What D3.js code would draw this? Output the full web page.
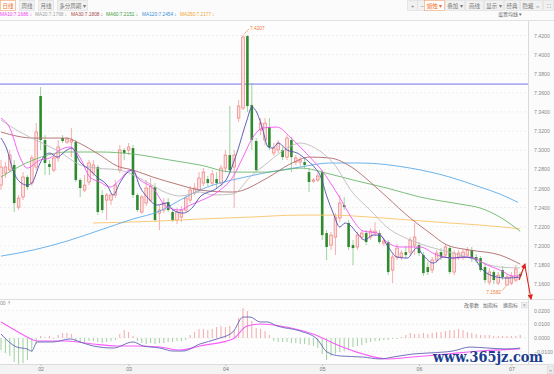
<!DOCTYPE html>
<html>
<head>
<meta charset="utf-8">
<script src="https://cdn.jsdelivr.net/npm/d3@7"></script>
<style>
  body { margin: 0; background: #fafafa; }
  svg { display: block; font-family: "Liberation Sans", "Noto Sans CJK SC", sans-serif; }
</style>
</head>
<body>
<svg id="chart" width="554" height="374"></svg>
<script>
// daily K line, index 0..118
const openP = [7.2635,7.2761,7.2792,7.2845,7.2405,7.2510,7.2719,7.2656,7.2824,7.3567,
  7.3106,7.2855,7.2792,7.2918,7.3127,7.3085,7.3085,7.3085,7.2688,7.2583,
  7.2667,7.2761,7.2824,7.2531,7.2478,7.2478,7.2531,7.2792,7.3002,7.3002,
  7.3022,7.2531,7.2353,7.2447,7.2478,7.2614,7.2342,7.2374,7.2457,7.2353,
  7.2269,7.2300,7.2374,7.2478,7.2552,7.2583,7.2656,7.2698,7.2656,7.2698,
  7.2656,7.2813,7.2949,7.2824,7.3336,7.3441,7.4194,7.3472,7.3096,7.3211,
  7.3106,7.3242,7.2970,7.3002,7.3002,7.2928,7.3106,7.2876,7.2876,7.2876,
  7.2771,7.2677,7.2688,7.2771,7.2133,7.2007,7.2091,7.2290,7.2426,7.2238,
  7.2007,7.1987,7.2091,7.2133,7.2091,7.2133,7.2133,7.2028,7.2039,7.1746,
  7.1882,7.1882,7.1934,7.1934,7.2007,7.2007,7.1903,7.1777,7.1746,7.1851,
  7.1934,7.1903,7.1976,7.1725,7.1882,7.1882,7.1903,7.1955,7.1882,7.1871,
  7.1777,7.1620,7.1725,7.1610,7.1746,7.1589,7.1610,7.1641,7.1704]
const highP = [7.2897,7.2876,7.3002,7.2897,7.2531,7.2771,7.2740,7.2949,7.3284,7.3661,
  7.3158,7.2897,7.2949,7.3106,7.3158,7.3138,7.3232,7.3106,7.2709,7.2740,
  7.2897,7.2897,7.2845,7.2583,7.2552,7.2552,7.2688,7.3054,7.3022,7.3075,
  7.3054,7.2552,7.2531,7.2688,7.2709,7.2656,7.2426,7.2499,7.2499,7.2374,
  7.2395,7.2415,7.2531,7.2625,7.2656,7.2771,7.2813,7.2730,7.2792,7.2771,
  7.2845,7.3002,7.3462,7.3002,7.3525,7.4207,7.4205,7.3703,7.3127,7.3336,
  7.3336,7.3336,7.3075,7.3106,7.3033,7.3158,7.3138,7.2949,7.2928,7.2918,
  7.2813,7.2709,7.2771,7.2792,7.2164,7.2144,7.2342,7.2531,7.2510,7.2269,
  7.2060,7.2144,7.2164,7.2164,7.2185,7.2248,7.2164,7.2081,7.2060,7.1913,
  7.2018,7.1955,7.1997,7.2091,7.2238,7.2039,7.1934,7.1830,7.1882,7.1955,
  7.1976,7.2018,7.1997,7.1955,7.1955,7.1966,7.1987,7.1987,7.1913,7.1892,
  7.1809,7.1767,7.1746,7.1725,7.1788,7.1704,7.1725,7.1798,7.1725]
const lowP = [7.2583,7.2709,7.2771,7.2353,7.2374,7.2478,7.2583,7.2625,7.2792,7.3002,
  7.2740,7.2740,7.2771,7.2876,7.3075,7.3064,7.2928,7.2667,7.2510,7.2562,
  7.2635,7.2730,7.2321,7.2342,7.2269,7.2426,7.2499,7.2761,7.2897,7.2949,
  7.2499,7.2353,7.2332,7.2415,7.2457,7.2248,7.2164,7.2342,7.2353,7.2248,
  7.2227,7.2248,7.2353,7.2447,7.2531,7.2562,7.2625,7.2625,7.2625,7.2604,
  7.2625,7.2771,7.2771,7.2395,7.3295,7.3420,7.3399,7.3002,7.2771,7.3158,
  7.3054,7.3002,7.2939,7.2970,7.2897,7.2897,7.2771,7.2845,7.2834,7.2813,
  7.2562,7.2656,7.2667,7.2060,7.1851,7.1955,7.1903,7.2248,7.2374,7.1955,
  7.1798,7.1955,7.2060,7.2007,7.2060,7.2102,7.2018,7.1997,7.1693,7.1610,
  7.1851,7.1851,7.1871,7.1903,7.1903,7.1892,7.1683,7.1693,7.1714,7.1819,
  7.1851,7.1871,7.1704,7.1693,7.1851,7.1851,7.1871,7.1830,7.1819,7.1725,
  7.1610,7.1589,7.1600,7.1589,7.1641,7.1582,7.1589,7.1620,7.1662]
const closeP = [7.2824,7.2824,7.2949,7.2447,7.2499,7.2719,7.2614,7.2918,7.3190,7.3106,
  7.2866,7.2824,7.2918,7.3033,7.3096,7.3117,7.3106,7.2688,7.2604,7.2635,
  7.2866,7.2845,7.2353,7.2374,7.2531,7.2531,7.2635,7.3002,7.2970,7.3033,
  7.2531,7.2374,7.2510,7.2604,7.2625,7.2269,7.2374,7.2447,7.2374,7.2269,
  7.2353,7.2374,7.2499,7.2583,7.2604,7.2709,7.2771,7.2656,7.2750,7.2656,
  7.2813,7.2949,7.2792,7.2949,7.3462,7.4184,7.3462,7.3106,7.2792,7.3284,
  7.3284,7.3033,7.3022,7.3075,7.2928,7.3127,7.2928,7.2918,7.2897,7.2845,
  7.2667,7.2688,7.2730,7.2112,7.1987,7.2112,7.2300,7.2447,7.2405,7.1987,
  7.1976,7.2112,7.2133,7.2039,7.2154,7.2154,7.2039,7.2049,7.1725,7.1882,
  7.1976,7.1924,7.1903,7.2060,7.2091,7.1924,7.1714,7.1725,7.1851,7.1924,
  7.1882,7.1987,7.1725,7.1924,7.1924,7.1934,7.1955,7.1871,7.1851,7.1746,
  7.1641,7.1725,7.1641,7.1693,7.1673,7.1673,7.1683,7.1756,7.1683]

// moving averages, [candle index, value]
const ma5 = [[0,7.3127],[1.4,7.3002],[2.7,7.2792],[4.3,7.2667],[5.9,7.2635],[7,7.2656],[8.9,7.2866],[10,7.2949],
  [11.1,7.2970],[12.7,7.2928],[15,7.3002],[16.1,7.3022],[18,7.2876],[20.2,7.2792],[21.8,7.2719],[24.1,7.2635],
  [25.5,7.2531],[27,7.2656],[28.6,7.2761],[30,7.2792],[31.6,7.2614],[33.2,7.2510],[35.5,7.2426],[37.7,7.2447],
  [39.1,7.2374],[41.4,7.2342],[43.6,7.2405],[45.2,7.2510],[49.1,7.2604],[51.4,7.2709],[53.6,7.2970],[55.9,7.3315],
  [57,7.3451],[58.2,7.3389],[59.5,7.3211],[60.7,7.3033],[61.8,7.3022],[63,7.3075],[65,7.3002],[67.3,7.2970],
  [69.5,7.2897],[71.4,7.2813],[72.5,7.2740],[74.1,7.2510],[75.5,7.2342],[77,7.2196],[78.2,7.2238],[79.3,7.2217],
  [80.9,7.2133],[82.7,7.2060],[84.5,7.2112],[86.1,7.2112],[88,7.1987],[90,7.1882],[92.3,7.1871],[94.5,7.1976],
  [95.9,7.1903],[98.2,7.1819],[100.5,7.1882],[102.7,7.1871],[105,7.1882],[107.3,7.1871],[109.5,7.1746],
  [111.8,7.1683],[115,7.1662],[118,7.1673]]
const ma10 = [[0,7.3336],[2,7.3232],[4.3,7.2928],[5.9,7.2813],[8.9,7.2897],[11.1,7.2918],[13.4,7.3002],[15.7,7.3033],
  [18,7.2918],[20.2,7.2719],[22.5,7.2667],[24.8,7.2614],[27,7.2688],[29.3,7.2792],[31.6,7.2688],[34.5,7.2604],
  [37.7,7.2405],[40.7,7.2374],[43,7.2426],[45.2,7.2468],[49.8,7.2583],[52.7,7.2719],[55,7.2928],[57.3,7.3138],
  [59.5,7.3232],[62.7,7.3242],[65.7,7.3138],[68,7.3033],[70.2,7.2928],[73.2,7.2771],[75.5,7.2614],[77.7,7.2447],
  [80,7.2269],[82.3,7.2154],[85.5,7.2133],[87.7,7.2039],[90.7,7.1987],[95.2,7.1987],[99.1,7.1903],[102.7,7.1871],
  [106.6,7.1882],[110.5,7.1798],[113.4,7.1746],[116.4,7.1683],[118,7.1686]]
const ma20 = [[0,7.3315],[4.3,7.3190],[8.9,7.3085],[13.4,7.2981],[18,7.2845],[21.8,7.2813],[27,7.2792],[32.3,7.2688],
  [37.7,7.2552],[40.7,7.2520],[45.2,7.2562],[48.2,7.2531],[52.7,7.2541],[56.6,7.2719],[60.5,7.2866],[65,7.3022],
  [68,7.3075],[71.4,7.3022],[75.5,7.2866],[80,7.2552],[83.9,7.2374],[87.7,7.2196],[93,7.2060],[97.5,7.1987],
  [102.7,7.1924],[106.6,7.1871],[113.4,7.1777],[118,7.1768]]
const ma30 = [[0,7.3190],[7.3,7.3127],[15,7.3127],[17.3,7.3085],[22.5,7.2949],[26.4,7.2834],[30,7.2792],[34.5,7.2719],
  [40.7,7.2635],[45.2,7.2583],[52.7,7.2562],[60.5,7.2709],[65.7,7.2855],[70.2,7.2928],[74.8,7.2918],[80,7.2813],
  [83.9,7.2667],[87.7,7.2510],[93,7.2290],[97.5,7.2133],[101.4,7.2007],[106.6,7.1955],[113.4,7.1903],[118,7.1808]]
const ma60 = [[0,7.2719],[7.3,7.2897],[15,7.2981],[22.5,7.2981],[30,7.2960],[38.4,7.2897],[45.2,7.2845],[52.7,7.2771],
  [60.5,7.2771],[68,7.2813],[74.8,7.2750],[80,7.2688],[87.7,7.2604],[95.2,7.2510],[104.3,7.2436],[108.9,7.2395],
  [113.4,7.2300],[118,7.2151]]
const ma120 = [[0,7.1892],[7.3,7.1955],[15,7.2049],[22.5,7.2164],[30,7.2280],[36.1,7.2363],[40.7,7.2478],[45.2,7.2583],
  [56.6,7.2730],[68,7.2824],[74.8,7.2866],[81.6,7.2866],[93,7.2813],[102,7.2719],[108.9,7.2614],[113.4,7.2541],
  [117.5,7.2454]]
const ma250 = [[20.9,7.2238],[29.3,7.2248],[36.1,7.2259],[45.2,7.2280],[56.6,7.2300],[68,7.2321],[74.8,7.2321],
  [83.9,7.2300],[93,7.2269],[102,7.2238],[108.9,7.2217],[118,7.2177]]

const maNames = ["MA10", "MA20", "MA30", "MA60", "MA120", "MA250"]
const maLast = ["7.1686", "7.1768", "7.1808", "7.2151", "7.2454", "7.2177"]

const levelLine = 7.3692
const maxLabel = "7.4207", minLabel = "7.1582"

// MACD panel
const macdHist = [-0.0088,-0.0110,-0.0131,-0.0175,-0.0190,-0.0183,-0.0161,-0.0102,-0.0044,0.0015,
  0.0007,0.0015,-0.0007,0.0022,0.0037,0.0037,0.0029,-0.0022,-0.0037,-0.0029,
  -0.0022,-0.0022,-0.0029,-0.0037,-0.0029,-0.0022,-0.0015,0.0029,0.0058,0.0044,
  0.0015,-0.0022,-0.0037,-0.0044,-0.0037,-0.0044,-0.0037,-0.0037,-0.0029,-0.0029,
  -0.0022,-0.0022,-0.0015,0.0022,0.0044,0.0066,0.0066,0.0058,0.0066,0.0080,
  0.0088,0.0080,0.0088,0.0058,0.0146,0.0219,0.0197,0.0124,0.0073,0.0066,
  0.0051,0.0022,-0.0022,-0.0029,-0.0029,-0.0029,-0.0037,-0.0037,-0.0044,-0.0044,
  -0.0051,-0.0058,-0.0073,-0.0117,-0.0161,-0.0131,-0.0117,-0.0102,-0.0095,-0.0088,
  -0.0066,-0.0058,-0.0051,-0.0037,-0.0029,-0.0022,-0.0022,-0.0015,-0.0015,-0.0007,
  -0.0007,0.0007,0.0022,0.0037,0.0029,0.0029,0.0037,0.0029,0.0037,0.0044,
  0.0044,0.0051,0.0058,0.0058,0.0066,0.0058,0.0044,0.0037,0.0029,0.0022,
  0.0022,0.0022,0.0015,0.0015,0.0015,0.0015,0.0015,0.0015,0.0022]
const difLine = [[0,0.0029],[3.6,-0.0066],[5.9,-0.0080],[7,-0.0095],[8.2,-0.0029],[11.8,-0.0029],[15.7,-0.0007],
  [18,-0.0029],[20.9,-0.0058],[25.5,-0.0073],[30,-0.0029],[32.3,-0.0058],[36.1,-0.0073],[39.1,-0.0095],[41.4,-0.0095],
  [45.2,-0.0044],[49.1,-0.0007],[52.7,0.0044],[55,0.0153],[56.6,0.0153],[58.9,0.0117],[60.5,0.0117],[62.7,0.0088],
  [68,0.0051],[71.8,-0.0007],[74.1,-0.0102],[77,-0.0131],[82.3,-0.0139],[86.1,-0.0153],[89.1,-0.0139],
  [93.6,-0.0117],[97.5,-0.0109],[102.7,-0.0095],[106.6,-0.0066],[110.5,-0.0073],[115,-0.0080],[118,-0.0073]]
const deaLine = [[0,0.0117],[2.7,0.0066],[5.9,0.0007],[8.2,-0.0022],[15,-0.0022],[20.9,-0.0044],[26.4,-0.0058],
  [30,-0.0058],[36.1,-0.0066],[40.7,-0.0088],[45.2,-0.0058],[52.7,-0.0007],[55.9,0.0088],[58.9,0.0102],[63.4,0.0088],
  [70.9,0.0029],[77,-0.0058],[82.3,-0.0117],[87.7,-0.0153],[93.6,-0.0139],[101.4,-0.0117],[108.9,-0.0095],[118,-0.0080]]

const priceTicks = [7.16, 7.18, 7.20, 7.22, 7.24, 7.26, 7.28, 7.30, 7.32, 7.34, 7.36, 7.38, 7.40, 7.42]
const macdTicks = [0.02, 0.01, 0, -0.01]
const monthIdx = [9, 29, 51, 73, 95, 116]
const monthLabels = ["02", "03", "04", "05", "06", "07"]

const svg = d3.select("#chart")
const plotR = 528

const x = d3.scaleLinear().domain([0, 118]).range([1, 520.2])
const y = d3.scaleLinear().domain([7.16, 7.42]).range([284, 35.5])
const yM = d3.scaleLinear().domain([-0.02, 0.02]).range([365.4, 310.6])

const defs = svg.append("defs")
defs.append("clipPath").attr("id", "clipMain").append("rect").attr("x", 0).attr("y", 20).attr("width", plotR).attr("height", 277)
defs.append("clipPath").attr("id", "clipMacd").append("rect").attr("x", 0).attr("y", 300).attr("width", plotR).attr("height", 64)
defs.append("marker").attr("id", "arr").attr("viewBox", "0 0 10 10").attr("refX", 8).attr("refY", 5)
  .attr("markerWidth", 5).attr("markerHeight", 5).attr("orient", "auto")
  .append("path").attr("d", "M0,0 L10,5 L0,10 z").attr("fill", "#e0231c")

// backgrounds
svg.append("rect").attr("width", 554).attr("height", 374).attr("fill", "#fbfbfb")
svg.append("rect").attr("x", 0).attr("y", 20).attr("width", plotR).attr("height", 344).attr("fill", "#fdfdfd")

// toolbar
const tabs = [{t: "日线", x: 0, w: 15, on: true}, {t: "周线", x: 19, w: 15}, {t: "月线", x: 38, w: 15}, {t: "多分周期 ▾", x: 57, w: 30}]
const btns = [{t: "+", x: 407, w: 10}, {t: "−", x: 417, w: 9}, {t: "蜡烛 ▾", x: 424, w: 20, on: true}, {t: "叠加 ▾", x: 445, w: 19},
  {t: "画线", x: 465, w: 18}, {t: "显示 ▾", x: 484, w: 19}, {t: "经典", x: 504, w: 15}, {t: "隐藏 ⇔", x: 520, w: 22}, {t: "⛶", x: 543, w: 10}]
const tb = svg.append("g")
tb.selectAll("rect").data(tabs.concat(btns)).join("rect")
  .attr("x", d => d.x + 0.5).attr("y", 0.5).attr("width", d => d.w).attr("height", 10)
  .attr("fill", d => d.on ? "#fff" : "#f1f1f1").attr("stroke", d => d.on ? "#f3a16d" : "#dcdcdc").attr("stroke-width", 0.6)
tb.selectAll("text").data(tabs.concat(btns)).join("text")
  .attr("x", d => d.x + 0.5 + d.w / 2).attr("y", 7.5).attr("text-anchor", "middle")
  .attr("font-size", 5.5).attr("fill", d => d.on ? "#f06a1c" : "#777").text(d => d.t)

// MA legend
const maColors = ["#f23cf2", "#a0a0a0", "#a8484a", "#3e9e3e", "#3b8fd9", "#f2a532"]
const legX = [0, 35, 71, 106, 142, 180]
const leg = svg.append("g").attr("font-size", 4.8)
maNames.forEach((n, k) => {
  leg.append("text").attr("x", legX[k]).attr("y", 16).attr("fill", maColors[k]).text(n + ":" + maLast[k])
  leg.append("text").attr("x", legX[k] + (k > 3 ? 32 : 29.5)).attr("y", 16.3).attr("fill", maColors[k]).attr("font-size", 5.5).text("↓")
})
svg.append("text").attr("x", 498).attr("y", 16).attr("font-size", 5).attr("fill", "#666").text("设置均线 ▾")

// grid
const grid = svg.append("g").attr("stroke", "#e6e6e6").attr("stroke-width", 0.6).attr("stroke-dasharray", "2,2")
grid.selectAll("line.p").data(priceTicks).join("line").attr("class", "p")
  .attr("x1", 0).attr("x2", plotR).attr("y1", d => y(d)).attr("y2", d => y(d))
grid.selectAll("line.m").data(macdTicks).join("line").attr("class", "m")
  .attr("x1", 0).attr("x2", plotR).attr("y1", d => yM(d)).attr("y2", d => yM(d))

// right axes
svg.append("line").attr("x1", plotR + 0.5).attr("x2", plotR + 0.5).attr("y1", 20).attr("y2", 374).attr("stroke", "#dadada")
const ax1 = svg.append("g").attr("transform", `translate(534,0)`)
  .call(d3.axisRight(y).tickValues(priceTicks).tickFormat(d3.format(".4f")).tickSize(0).tickPadding(0))
const ax2 = svg.append("g").attr("transform", `translate(534,0)`)
  .call(d3.axisRight(yM).tickValues(macdTicks).tickFormat(d3.format(".4f")).tickSize(0).tickPadding(0))
for (const a of [ax1, ax2]) {
  a.select(".domain").remove()
  a.selectAll("text").attr("font-size", 5.2).attr("fill", "#8a8a8a").attr("font-family", "Liberation Sans")
}

// panel separators
svg.append("line").attr("x1", 0).attr("x2", 554).attr("y1", 20.5).attr("y2", 20.5).attr("stroke", "#e2e2e2")
svg.append("line").attr("x1", 0).attr("x2", 554).attr("y1", 299.5).attr("y2", 299.5).attr("stroke", "#dedede")

const main = svg.append("g").attr("clip-path", "url(#clipMain)")

// level line
main.append("line").attr("x1", 0).attr("x2", plotR).attr("y1", y(levelLine)).attr("y2", y(levelLine))
  .attr("stroke", "#aeaef5").attr("stroke-width", 1.8)

// candles
const idx = d3.range(openP.length)
const up = i => closeP[i] >= openP[i]
main.selectAll("line.wick").data(idx).join("line").attr("class", "wick")
  .attr("x1", i => x(i)).attr("x2", i => x(i)).attr("y1", i => y(highP[i])).attr("y2", i => y(lowP[i]))
  .attr("stroke", i => up(i) ? "#f19a9a" : "#86c786").attr("stroke-width", 0.8)
main.selectAll("rect.body").data(idx).join("rect").attr("class", "body")
  .attr("x", i => x(i) - 1.3).attr("width", 2.6)
  .attr("y", i => y(Math.max(openP[i], closeP[i])))
  .attr("height", i => Math.max(0.8, Math.abs(y(openP[i]) - y(closeP[i]))))
  .attr("fill", i => up(i) ? "#fce4e4" : "#2f8a2f")
  .attr("stroke", i => up(i) ? "#ee7b7b" : "none").attr("stroke-width", 0.7)

// MA lines
const line = d3.line().x(d => x(d[0])).y(d => y(d[1])).curve(d3.curveMonotoneX)
const maSets = [[ma250, "#f9c46a"], [ma120, "#5eaae8"], [ma60, "#6cb86c"], [ma30, "#b06a6a"], [ma20, "#bcbcbc"], [ma10, "#f552f5"], [ma5, "#4f4fb0"]]
maSets.forEach(([pts, c]) => {
  main.append("path").attr("d", line(pts)).attr("fill", "none").attr("stroke", c).attr("stroke-width", 0.9)
})

// max / min markers
const hiI = 55, loI = 115
svg.append("line").attr("x1", x(hiI) + 1).attr("y1", y(highP[hiI]) - 0.5).attr("x2", x(hiI) + 6).attr("y2", y(highP[hiI]) - 6)
  .attr("stroke", "#f07b3a").attr("stroke-width", 0.6)
svg.append("text").attr("x", x(hiI) + 7).attr("y", y(highP[hiI]) - 5).attr("font-size", 4.8).attr("fill", "#f07b3a").text(maxLabel)
svg.append("line").attr("x1", x(loI) - 1).attr("y1", y(lowP[loI]) + 0.5).attr("x2", x(loI) - 5).attr("y2", y(lowP[loI]) + 5)
  .attr("stroke", "#f07b3a").attr("stroke-width", 0.6)
svg.append("text").attr("x", x(loI) - 6).attr("y", y(lowP[loI]) + 8).attr("text-anchor", "end")
  .attr("font-size", 4.8).attr("fill", "#f07b3a").text(minLabel)

// MACD panel
const macd = svg.append("g").attr("clip-path", "url(#clipMacd)")
macd.selectAll("line.bar").data(idx).join("line").attr("class", "bar")
  .attr("x1", i => x(i)).attr("x2", i => x(i)).attr("y1", yM(0)).attr("y2", i => yM(macdHist[i]))
  .attr("stroke", i => macdHist[i] >= 0 ? "#f2a0a0" : "#94cc94").attr("stroke-width", 0.9)
const mline = d3.line().x(d => x(d[0])).y(d => yM(d[1])).curve(d3.curveMonotoneX)
macd.append("path").attr("d", mline(deaLine)).attr("fill", "none").attr("stroke", "#fb5cfb").attr("stroke-width", 1.1)
macd.append("path").attr("d", mline(difLine)).attr("fill", "none").attr("stroke", "#6262b8").attr("stroke-width", 0.9)

svg.append("text").attr("x", 0).attr("y", 305).attr("font-size", 5).attr("fill", "#888").text("00 ⇡")
const mb = [{t: "改参数", x: 464}, {t: "加指标", x: 483}, {t: "换指标", x: 503}]
svg.selectAll("text.mb").data(mb).join("text").attr("class", "mb")
  .attr("x", d => d.x).attr("y", 307).attr("font-size", 5).attr("fill", "#666").text(d => d.t)
svg.append("rect").attr("x", 521.5).attr("y", 302.5).attr("width", 5.5).attr("height", 5.5).attr("fill", "#f3f3f3").attr("stroke", "#ccc").attr("stroke-width", 0.5)
svg.append("text").attr("x", 524.2).attr("y", 307).attr("text-anchor", "middle").attr("font-size", 5).attr("fill", "#888").text("×")

// x axis strip
svg.append("rect").attr("x", 0).attr("y", 364).attr("width", 554).attr("height", 10).attr("fill", "#f3f3f3")
svg.append("line").attr("x1", 0).attr("x2", 554).attr("y1", 364.5).attr("y2", 364.5).attr("stroke", "#dcdcdc")
const xa = svg.append("g").attr("transform", "translate(0,364.5)")
  .call(d3.axisBottom(x).tickValues(monthIdx).tickFormat((d, k) => monthLabels[k]).tickSize(1.5).tickPadding(1))
xa.select(".domain").remove()
xa.selectAll("line").attr("stroke", "#bbb")
xa.selectAll("text").attr("font-size", 5.2).attr("fill", "#777").attr("font-family", "Liberation Sans")
svg.append("rect").attr("x", 547.5).attr("y", 366.5).attr("width", 6).attr("height", 7).attr("fill", "#eee").attr("stroke", "#ccc").attr("stroke-width", 0.5)
svg.append("text").attr("x", 550.5).attr("y", 372).attr("text-anchor", "middle").attr("font-size", 6).attr("fill", "#999").text("»")

// red annotation arrows
svg.append("line").attr("x1", 519).attr("y1", 280).attr("x2", 525).attr("y2", 264)
  .attr("stroke", "#e0231c").attr("stroke-width", 1.1).attr("marker-end", "url(#arr)")
svg.append("line").attr("x1", 525).attr("y1", 266).attr("x2", 531).attr("y2", 299)
  .attr("stroke", "#e0231c").attr("stroke-width", 1.1).attr("marker-end", "url(#arr)")

// watermark
svg.append("text").attr("x", 433).attr("y", 362).attr("font-size", 15).attr("font-weight", "bold")
  .attr("font-family", "DejaVu Serif, Liberation Serif, serif").attr("fill", "#1b3d8f")
  .attr("textLength", 110).attr("lengthAdjust", "spacingAndGlyphs").text("www.365jz.com")
</script>
</body>
</html>
